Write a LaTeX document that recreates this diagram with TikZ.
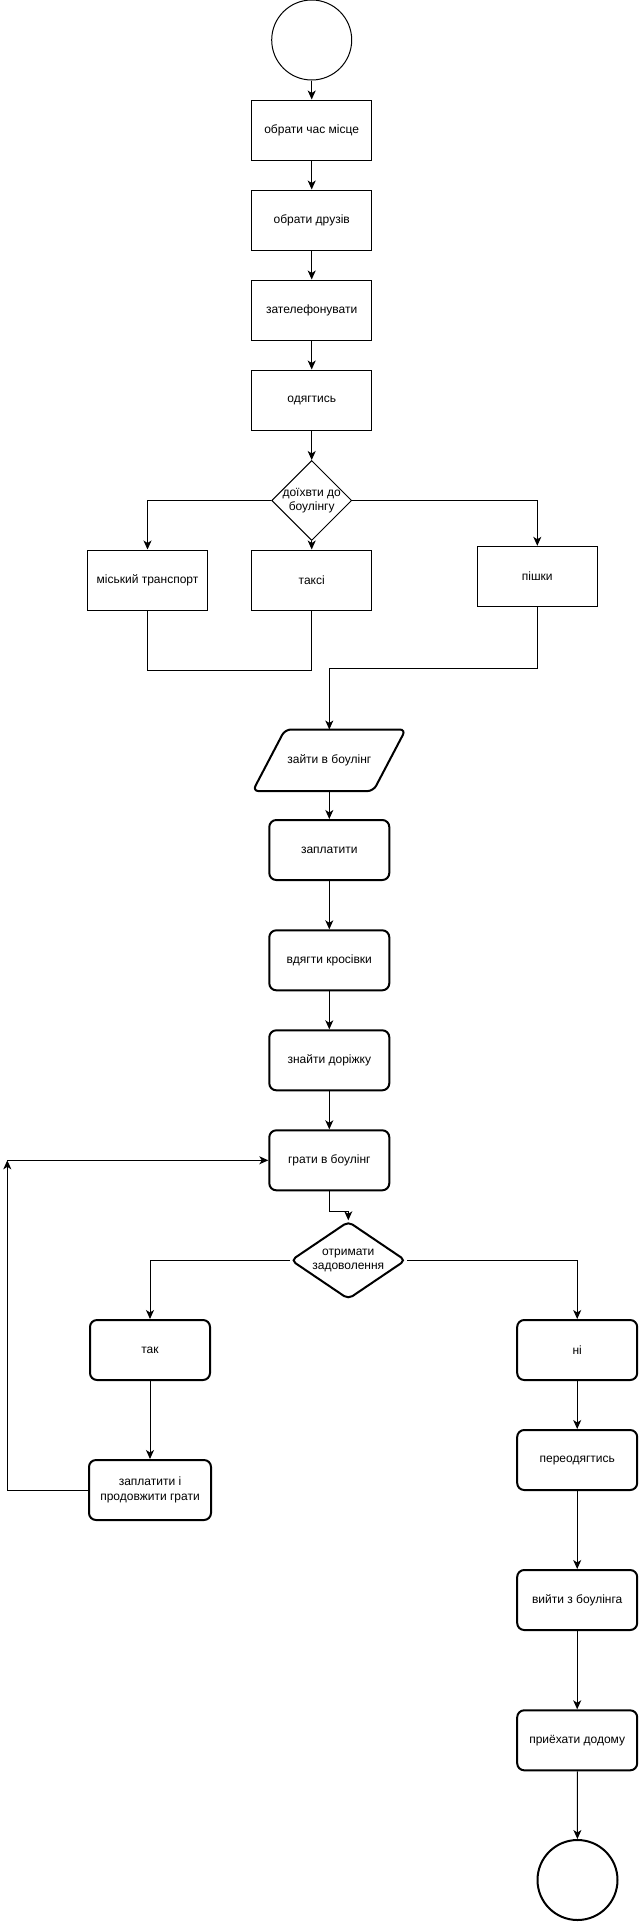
\documentclass[tikz,border=0pt]{standalone}
\usepackage{fontspec}
\setmainfont{Liberation Sans}
\usetikzlibrary{arrows.meta,shapes.geometric,positioning}

\begin{document}
\begin{tikzpicture}[x=1pt,y=-1pt,line width=1pt,
    >={Stealth[length=9pt,width=8pt,inset=2.5pt]},
    every node/.style={font=\fontsize{12}{14.3}\selectfont},
    term/.style={draw,circle,minimum size=80pt,inner sep=0pt},
    proc/.style={draw,minimum width=120pt,minimum height=60pt,align=center,inner sep=2pt},
    rproc/.style={proc,line width=2pt,rounded corners=7pt},
    decision/.style={draw,diamond,aspect=1,minimum width=80pt,minimum height=80pt,inner sep=-3pt,align=center},
    rdecision/.style={draw,diamond,aspect=1.47,minimum width=115pt,minimum height=78pt,inner sep=0pt,
        line width=2pt,rounded corners=5pt,align=center},
    io/.style={minimum width=120pt,minimum height=60.6pt,inner sep=0pt},
    ioframe/.style={line width=2pt,rounded corners=6pt}]
    \useasboundingbox (0,0) rectangle (639,1922);

    % first part
    \node[term] (start) at (311.7,40) {};
    \node[proc] (choose)  at (311.7,130) {обрати час місце};
    \node[proc] (friends) at (311.7,220) {обрати друзів};
    \node[proc] (call)    at (311.7,310) {зателефонувати};
    \node[proc] (dress)   at (311.7,400) {одягтись};
    \node[decision] (ride) at (311.7,500.5) {доїхвти до\\боулінгу};

    \draw[->] (start) -- (choose);
    \draw[->] (choose) -- (friends);
    \draw[->] (friends) -- (call);
    \draw[->] (call) -- (dress);
    \draw[->] (dress) -- (ride);

    % three ways to get there
    \node[proc] (city) at (147.5,580) {міський транспорт};
    \node[proc] (taxi) at (311.7,580) {таксі};
    \node[proc] (walk) at (537.3,576.3) {пішки};

    \draw[->] (ride.west) -| (city.north);
    \draw[->] (ride) -- (taxi);
    \draw[->] (ride.east) -| (walk.north);

    % joining the branches
    \coordinate (joinA) at (311.7,670);
    \coordinate (joinB) at (329.3,668.3);
    \draw (city.south) |- (joinA);
    \draw (taxi.south) -- (joinA);

    % at the bowling
    \node[io] (enter) at (329.3,760.3) {зайти в боулінг};
    \draw[ioframe] ([xshift=-76.6pt]enter.south) -- ([xshift=-44.3pt]enter.north)
        -- ([xshift=76.4pt]enter.north) -- ([xshift=44pt]enter.south) -- cycle;
    \node[rproc] (pay)   at (329.3,850) {заплатити};
    \node[rproc] (shoes) at (329.3,960.3) {вдягти кросівки};
    \node[rproc] (lane)  at (329.3,1060.3) {знайти доріжку};
    \node[rproc] (play)  at (329.3,1160.3) {грати в боулінг};

    \draw[->] (walk.south) |- (joinB) -- (enter.north);
    \draw[->] (enter.south) -- (pay.north);
    \draw[->] (pay) -- (shoes);
    \draw[->] (shoes) -- (lane);
    \draw[->] (lane) -- (play);

    % satisfied or not
    \node[rdecision] (check) at (348.3,1260.3) {отримати\\задоволення};
    \draw[->] (play.south) -- ++(0,20) -| (check.north);

    \node[rproc] (yes)   at (150,1350) {так};
    \node[rproc,minimum width=122pt] (again) at (150,1490) {заплатити і\\продовжити грати};
    \node[rproc] (no)     at (577.2,1350) {ні};
    \node[rproc] (change) at (577.2,1460) {переодягтись};
    \node[rproc] (leave)  at (577.2,1600) {вийти з боулінга};
    \node[rproc] (home)   at (577.2,1740.3) {приёхати додому};
    \node[term,line width=2pt] (finish) at (577.5,1880) {};

    \draw[->] (check.west) -| (yes.north);
    \draw[->] (check.east) -| (no.north);
    \draw[->] (yes) -- (again);

    % play again loop
    \coordinate (loop) at (7.3,1160.3);
    \draw[->] (again.west) -| (loop);
    \draw[->] (loop) -- (play.west);

    \draw[->] (no) -- (change);
    \draw[->] (change) -- (leave);
    \draw[->] (leave) -- (home);
    \draw[->] (home) -- (finish);
\end{tikzpicture}
\end{document}
